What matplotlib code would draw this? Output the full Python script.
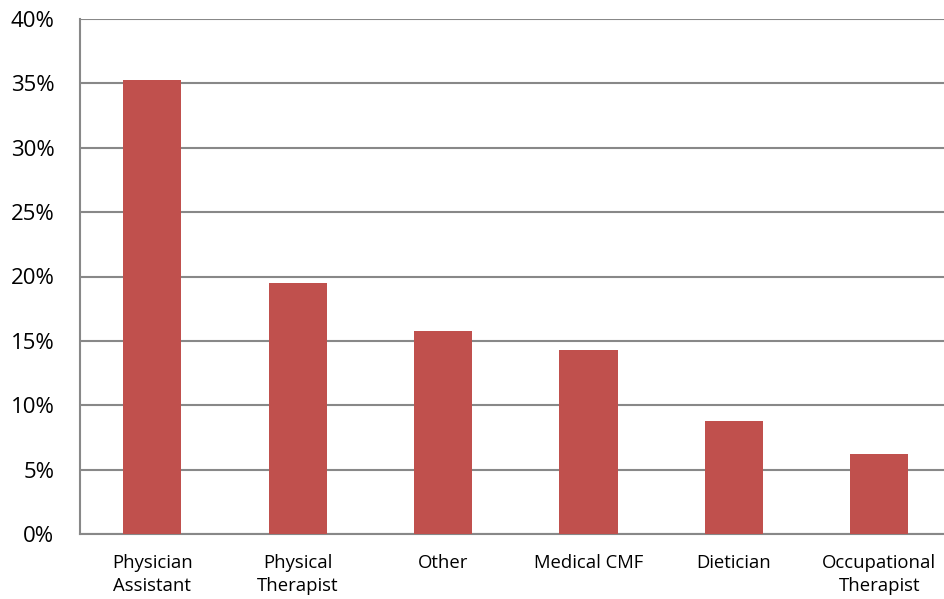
import matplotlib
matplotlib.use("Agg")
import matplotlib.pyplot as plt
from matplotlib.ticker import FuncFormatter

categories = ["Physician\nAssistant", "Physical\nTherapist", "Other",
              "Medical CMF", "Dietician", "Occupational\nTherapist"]
shares = [35.3, 19.5, 15.8, 14.3, 8.8, 6.2]
y_ticks = [0, 5, 10, 15, 20, 25, 30, 35, 40]

plt.rcParams["font.family"] = ["Open Sans", "DejaVu Sans"]

W, H = 945, 599
fig = plt.figure(figsize=(W / 100, H / 100), dpi=100)
left, right, top, bottom = 79.5, 952, 19, 534
ax = fig.add_axes([left / W, 1 - bottom / H, (right - left) / W, (bottom - top) / H])

grid_color = "#888888"
ax.bar(range(len(categories)), shares, width=0.4, color="#C0504D",
       zorder=3)
ax.set_xlim(-0.5, len(categories) - 0.5)
ax.set_ylim(0, 40)
ax.set_yticks(y_ticks)
ax.yaxis.set_major_formatter(FuncFormatter(lambda v, _: f"{v:.0f}%"))
ax.set_xticks(range(len(categories)))
ax.set_xticklabels(categories, fontsize=13.3, linespacing=1.32)
ax.tick_params(axis="y", labelsize=16, length=0, pad=18)
ax.tick_params(axis="x", length=0, pad=14.5)
ax.grid(axis="y", color=grid_color, linewidth=1.5, zorder=0)
for s in ("top", "right"):
    ax.spines[s].set_visible(False)
for s in ("left", "bottom"):
    ax.spines[s].set_color(grid_color)
    ax.spines[s].set_linewidth(1.5)

fig.savefig("out.png", dpi=100, facecolor="white")
